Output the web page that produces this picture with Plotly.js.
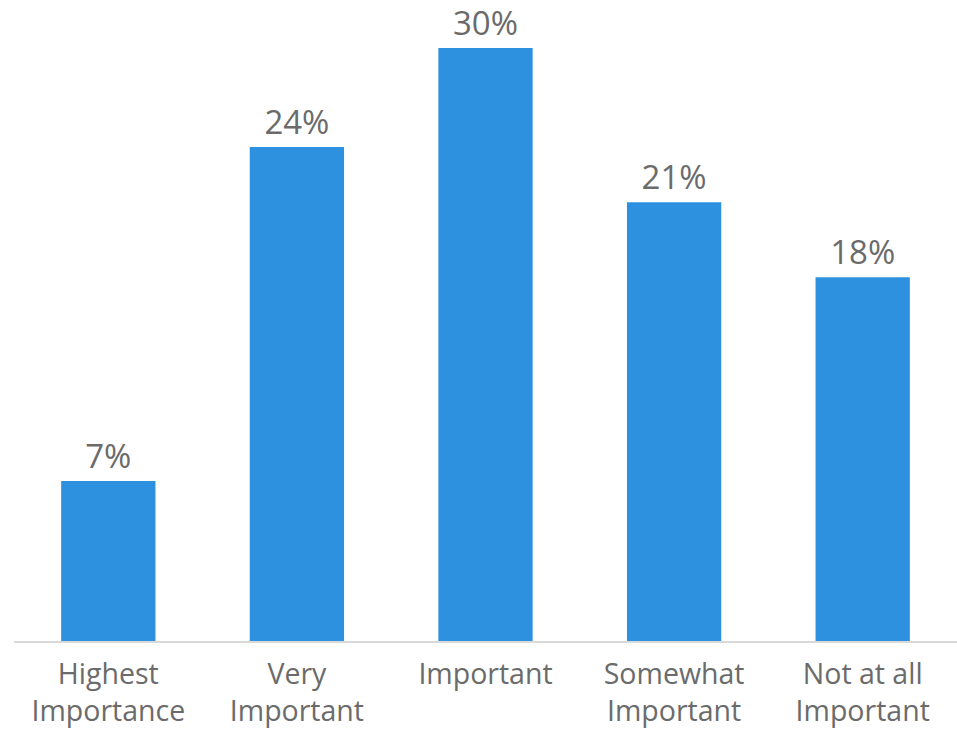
<!DOCTYPE html>
<html>
<head>
<meta charset="utf-8">
<script src="https://cdn.plot.ly/plotly-3.0.1.min.js"></script>
<style>html,body{margin:0;padding:0;background:#fff;}#chart{width:957px;height:730px;}</style>
</head>
<body>
<div id="chart"></div>
<script>
const categories = ["Highest<br>Importance", "Very<br>Important", "Important", "Somewhat<br>Important", "Not at all<br>Important"];
const values = [8.1, 25.0, 30.0, 22.2, 18.4];
const valueLabels = ["7%", "24%", "30%", "21%", "18%"];

const trace = {
  type: "bar",
  x: categories,
  y: values,
  text: valueLabels,
  textposition: "outside",
  cliponaxis: false,
  textfont: {family: "Open Sans", size: 33, color: "#6b6b6b"},
  marker: {color: "#2e91e0"},
  hoverinfo: "skip"
};

const layout = {
  width: 957,
  height: 730,
  margin: {l: 14, r: 0, t: 20, b: 89},
  paper_bgcolor: "#ffffff",
  plot_bgcolor: "#ffffff",
  bargap: 0.5,
  showlegend: false,
  font: {family: "Open Sans", color: "#6b6b6b"},
  xaxis: {
    showline: true,
    linecolor: "#d9d9d9",
    linewidth: 1.5,
    ticks: "",
    ticklabelstandoff: 7,
    tickfont: {family: "Open Sans", size: 28.5, color: "#6b6b6b"},
    showgrid: false,
    zeroline: false
  },
  yaxis: {
    range: [0, 31.42],
    visible: false,
    showgrid: false,
    zeroline: false
  }
};

Plotly.newPlot("chart", [trace], layout, {displayModeBar: false, staticPlot: true});
</script>
</body>
</html>
